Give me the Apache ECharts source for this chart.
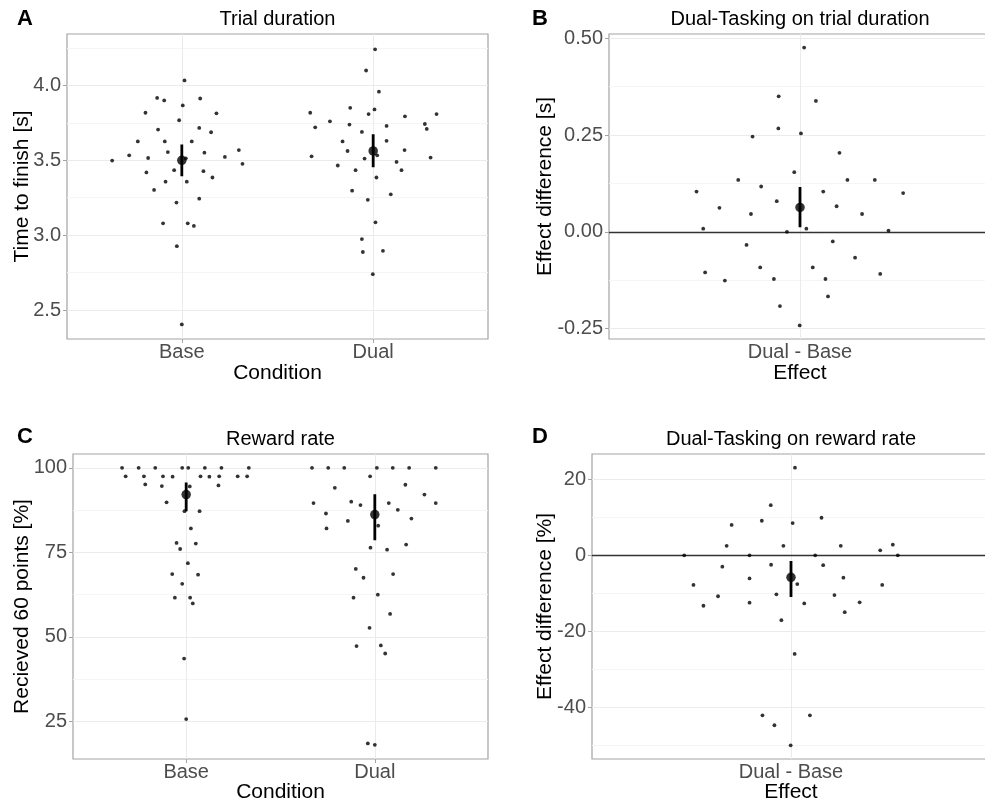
<!DOCTYPE html>
<html>
<head>
<meta charset="utf-8">
<script src="https://cdn.jsdelivr.net/npm/echarts@6/dist/echarts.min.js"></script>
<style>
  html, body { margin: 0; padding: 0; background: #fff; }
  #chart { width: 985px; height: 802px; }
</style>
</head>
<body>
<div id="chart"></div>
<script>
// categories
const conditions = ['Base', 'Dual']
const effects = ['Dual - Base']

// A: trial duration [s]
const timeBase = [4.033, 3.916, 3.899, 3.912, 3.866, 3.817, 3.813, 3.767, 3.716, 3.705, 3.687, 3.626, 3.626, 3.626, 3.555, 3.551, 3.533, 3.568, 3.515, 3.513, 3.498, 3.522, 3.476, 3.434, 3.419, 3.427, 3.357, 3.357, 3.385, 3.302, 3.218, 3.244, 3.079, 3.079, 3.062, 2.927, 2.405]
const timeBaseJitter = [0.014, -0.129, -0.092, 0.096, 0.005, -0.190, 0.181, -0.014, 0.091, -0.124, 0.153, -0.230, -0.089, 0.052, -0.073, 0.118, -0.275, 0.298, -0.176, 0.021, -0.364, 0.225, 0.317, -0.040, -0.185, 0.113, -0.085, 0.026, 0.160, -0.145, -0.028, 0.091, -0.098, 0.031, 0.063, -0.026, 0.000]
const timeDual = [4.240, 4.099, 3.958, 3.817, 3.850, 3.839, 3.808, 3.808, 3.760, 3.738, 3.720, 3.729, 3.793, 3.742, 3.709, 3.689, 3.626, 3.630, 3.562, 3.568, 3.533, 3.526, 3.511, 3.518, 3.489, 3.465, 3.434, 3.434, 3.385, 3.297, 3.273, 3.236, 3.086, 2.974, 2.888, 2.896, 2.740]
const timeDualJitter = [0.010, -0.037, 0.030, -0.329, -0.120, 0.007, -0.024, 0.331, -0.226, -0.124, -0.303, 0.070, 0.166, 0.270, 0.280, -0.059, -0.160, 0.070, -0.134, 0.164, 0.021, -0.322, -0.045, 0.300, 0.122, -0.185, -0.092, 0.148, 0.017, -0.110, 0.092, -0.028, 0.012, -0.059, -0.054, 0.051, -0.002]
const timeMean = [3.500, 3.562]
const timeLow = [3.394, 3.454]
const timeHigh = [3.606, 3.674]

// B: dual - base, trial duration [s]
const timeDiff = [0.476, 0.350, 0.338, 0.267, 0.254, 0.246, 0.204, 0.154, 0.134, 0.134, 0.134, 0.117, 0.104, 0.104, 0.100, 0.079, 0.062, 0.066, 0.046, 0.046, 0.008, 0.008, 0.003, 0.000, -0.034, -0.025, -0.067, -0.092, -0.092, -0.105, -0.109, -0.126, -0.122, -0.122, -0.167, -0.192, -0.242]
const timeDiffJitter = [0.013, -0.067, 0.050, -0.068, 0.003, -0.149, 0.124, -0.018, -0.194, 0.149, 0.235, -0.122, -0.325, 0.073, 0.324, -0.073, -0.253, 0.115, -0.154, 0.195, -0.304, 0.020, 0.278, -0.041, -0.168, 0.103, 0.173, -0.125, 0.040, -0.298, 0.252, -0.236, -0.082, 0.080, 0.088, -0.063, -0.001]
const timeDiffMean = [0.063]
const timeDiffLow = [0.012]
const timeDiffHigh = [0.1155]

// C: reward rate [%]
const rewardBase = [100, 100, 100, 100, 100, 100, 100, 100, 97.5, 97.5, 97.5, 97.4, 97.5, 97.4, 97.5, 97.5, 97.5, 95.1, 94.6, 94.5, 94.8, 89.8, 87.2, 87.2, 82.1, 77.8, 76.0, 77.6, 71.8, 68.6, 68.4, 65.7, 61.6, 61.6, 59.9, 43.6, 25.7]
const rewardBaseJitter = [-0.340, -0.252, -0.164, -0.021, 0.011, 0.099, 0.187, 0.332, -0.321, -0.224, -0.123, -0.072, 0.076, 0.123, 0.175, 0.273, 0.323, -0.217, -0.129, 0.019, 0.171, -0.104, -0.009, 0.071, 0.025, -0.051, -0.032, 0.051, 0.009, -0.074, 0.063, -0.021, -0.060, 0.021, 0.035, -0.011, 0.000]
const rewardDual = [100, 100, 100, 100, 100, 100, 100, 97.5, 94.1, 95.0, 92.1, 89.6, 90.0, 89.0, 89.6, 89.6, 86.5, 87.6, 84.3, 85.0, 82.1, 82.9, 77.3, 76.4, 75.8, 70.1, 67.5, 68.6, 61.6, 62.5, 56.8, 52.7, 47.3, 47.5, 45.1, 18.5, 18.1]
const rewardDualJitter = [-0.333, -0.247, -0.162, 0.011, 0.095, 0.182, 0.323, -0.025, -0.212, 0.162, 0.263, -0.325, -0.125, -0.076, 0.074, 0.323, -0.259, 0.122, -0.143, 0.194, -0.256, 0.018, 0.166, -0.023, 0.065, -0.101, -0.060, 0.097, -0.113, 0.016, 0.081, -0.028, -0.097, 0.032, 0.055, -0.037, 0.000]
const rewardMean = [92.1, 86.2]
const rewardLow = [87.2, 78.6]
const rewardHigh = [95.7, 92.2]

// D: dual - base, reward rate [%]
const rewardDiff = [23.1, 13.2, 9.1, 8.5, 8.0, 9.9, 2.5, 2.5, 2.5, 2.8, 1.3, 0, 0, 0, 0, -3.0, -2.5, -2.6, -6.1, -5.9, -7.8, -7.6, -7.8, -10.8, -10.3, -10.5, -13.3, -12.5, -12.7, -12.4, -15.0, -17.1, -26.0, -42.2, -42.2, -44.8, -50.1]
const rewardDiffJitter = [0.012, -0.061, -0.088, 0.005, -0.179, 0.092, -0.194, -0.023, 0.150, 0.307, 0.269, -0.322, -0.125, 0.073, 0.322, -0.207, -0.060, 0.097, -0.125, 0.158, -0.294, 0.019, 0.275, -0.220, -0.044, 0.131, -0.264, -0.125, 0.040, 0.207, 0.162, -0.029, 0.011, -0.086, 0.057, -0.050, -0.001]
const rewardDiffMean = [-5.8]
const rewardDiffLow = [-11.0]
const rewardDiffHigh = [-1.5]

// tick labels
const timeTicks = [2.5, 3.0, 3.5, 4.0]
const timeDiffTicks = [-0.25, 0, 0.25, 0.5]
const rewardTicks = [25, 50, 75, 100]
const rewardDiffTicks = [-40, -20, 0, 20]

const FONT = 'Liberation Sans, Arial, Helvetica, sans-serif'
const BORDER = '#A3A3A3'
const MAJOR = '#EBEBEB'
const MINOR = '#F5F5F5'
const TICKTXT = '#4D4D4D'

const chart = echarts.init(document.getElementById('chart'), null, { renderer: 'canvas' })

// B and D run past the right edge of the picture, as in the original crop
const grids = [
  { left: 67, top: 34, width: 421, height: 305 },
  { left: 609, top: 34, width: 382, height: 305 },
  { left: 73, top: 454, width: 415, height: 305 },
  { left: 592, top: 454, width: 398, height: 305 }
].map(g => Object.assign({
  show: true, borderColor: BORDER, borderWidth: 1.2, backgroundColor: 'transparent',
  containLabel: false, outerBoundsMode: 'none'
}, g))

function xAxisFor(gridIndex, names) {
  const vals = names.map((n, i) => i + 1)
  return {
    type: 'value',
    gridIndex: gridIndex,
    min: 0.4,
    max: names.length + 0.6,
    axisLine: { show: false },
    axisTick: { show: true, length: 4, customValues: vals, lineStyle: { color: BORDER, width: 1 } },
    axisLabel: {
      customValues: vals,
      formatter: v => names[Math.round(v) - 1] || '',
      color: TICKTXT, fontSize: 20, fontFamily: FONT, margin: 3
    },
    splitLine: { show: false }
  }
}

function yAxisFor(gridIndex, min, max, step, ticks, digits) {
  return {
    type: 'value',
    gridIndex: gridIndex,
    min: min,
    max: max,
    minInterval: step,
    maxInterval: step,
    axisLine: { show: false },
    axisTick: { show: true, length: 4, customValues: ticks, lineStyle: { color: BORDER, width: 1 } },
    axisLabel: {
      customValues: ticks,
      formatter: v => v.toFixed(digits),
      color: TICKTXT, fontSize: 20, fontFamily: FONT, margin: 6
    },
    splitLine: { show: true, lineStyle: { color: MAJOR, width: 1 } },
    minorTick: { show: false, splitNumber: 2 },
    minorSplitLine: { show: true, lineStyle: { color: MINOR, width: 1 } }
  }
}

function points(idx, cat, values, jitter) {
  return {
    type: 'scatter', xAxisIndex: idx, yAxisIndex: idx,
    symbolSize: 3.8, itemStyle: { color: '#000' }, z: 10, silent: true,
    data: values.map((v, i) => [cat + jitter[i], v])
  }
}

function errBar(idx, cat, lo, hi) {
  return {
    type: 'line', xAxisIndex: idx, yAxisIndex: idx,
    symbol: 'none', lineStyle: { color: '#000', width: 2.8, cap: 'butt' }, z: 11, silent: true,
    data: [[cat, lo], [cat, hi]]
  }
}

function means(idx, values) {
  return {
    type: 'scatter', xAxisIndex: idx, yAxisIndex: idx,
    symbolSize: 9.5, itemStyle: { color: '#000' }, z: 12, silent: true,
    data: values.map((v, i) => [i + 1, v])
  }
}

// reference lines: category grid lines and optional zero line
function guides(idx, nCat, zero) {
  const lines = []
  for (let i = 1; i <= nCat; i++) {
    lines.push({ xAxis: i, lineStyle: { color: MAJOR, width: 1, type: 'solid' } })
  }
  if (zero) lines.push({ yAxis: 0, lineStyle: { color: '#333333', width: 1.3, type: 'solid' } })
  return {
    type: 'line', xAxisIndex: idx, yAxisIndex: idx, data: [], z: 1, silent: true,
    markLine: { z: 1, silent: true, symbol: 'none', label: { show: false }, animation: false, data: lines }
  }
}

const series = [
  guides(0, 2, false),
  points(0, 1, timeBase, timeBaseJitter),
  points(0, 2, timeDual, timeDualJitter),
  errBar(0, 1, timeLow[0], timeHigh[0]),
  errBar(0, 2, timeLow[1], timeHigh[1]),
  means(0, timeMean),

  guides(1, 1, true),
  points(1, 1, timeDiff, timeDiffJitter),
  errBar(1, 1, timeDiffLow[0], timeDiffHigh[0]),
  means(1, timeDiffMean),

  guides(2, 2, false),
  points(2, 1, rewardBase, rewardBaseJitter),
  points(2, 2, rewardDual, rewardDualJitter),
  errBar(2, 1, rewardLow[0], rewardHigh[0]),
  errBar(2, 2, rewardLow[1], rewardHigh[1]),
  means(2, rewardMean),

  guides(3, 1, true),
  points(3, 1, rewardDiff, rewardDiffJitter),
  errBar(3, 1, rewardDiffLow[0], rewardDiffHigh[0]),
  means(3, rewardDiffMean)
]

function label(text, x, y, size, opts) {
  return Object.assign({
    type: 'text', x: x, y: y, silent: true,
    style: {
      text: text, fill: '#000', font: size + 'px ' + FONT,
      textAlign: 'center', textVerticalAlign: 'middle'
    }
  }, opts || {})
}

function letter(text, x, y) {
  return label(text, x, y, 22, {
    style: { text: text, fill: '#000', font: 'bold 22px ' + FONT, textAlign: 'center', textVerticalAlign: 'middle' }
  })
}

const texts = [
  // panel letters
  letter('A', 25, 19),
  letter('B', 540, 19),
  letter('C', 25, 437),
  letter('D', 540, 437),
  // panel titles
  label('Trial duration', 277.5, 19, 20),
  label('Dual-Tasking on trial duration', 800, 19, 20),
  label('Reward rate', 280.5, 439, 20),
  label('Dual-Tasking on reward rate', 791, 439, 20),
  // x titles
  label('Condition', 277.5, 373, 21),
  label('Effect', 800, 373, 21),
  label('Condition', 280.5, 792, 21),
  label('Effect', 791, 792, 21),
  // y titles
  label('Time to finish [s]', 22.5, 186.5, 21, { rotation: Math.PI / 2 }),
  label('Effect difference [s]', 545.5, 186.5, 21, { rotation: Math.PI / 2 }),
  label('Recieved 60 points [%]', 22.5, 606.5, 21, { rotation: Math.PI / 2 }),
  label('Effect difference [%]', 545.5, 606.5, 21, { rotation: Math.PI / 2 })
]

chart.setOption({
  animation: false,
  backgroundColor: '#fff',
  grid: grids,
  xAxis: [
    xAxisFor(0, conditions),
    xAxisFor(1, effects),
    xAxisFor(2, conditions),
    xAxisFor(3, effects)
  ],
  yAxis: [
    yAxisFor(0, 2.3075, 4.3425, 0.5, timeTicks, 1),
    yAxisFor(1, -0.277, 0.511, 0.25, timeDiffTicks, 2),
    yAxisFor(2, 13.9, 104.1, 25, rewardTicks, 0),
    yAxisFor(3, -53.7, 26.7, 20, rewardDiffTicks, 0)
  ],
  graphic: texts,
  series: series
})
</script>
</body>
</html>
